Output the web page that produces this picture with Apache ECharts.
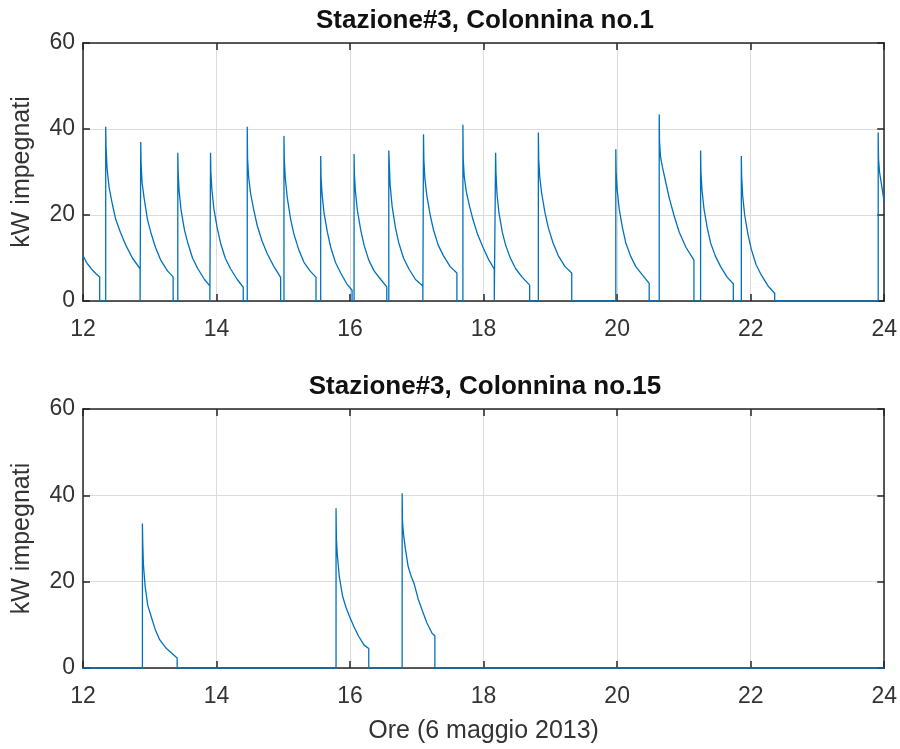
<!DOCTYPE html>
<html>
<head>
<meta charset="utf-8">
<script src="https://cdn.jsdelivr.net/npm/echarts@6/dist/echarts.min.js"></script>
<style>
  html, body { margin: 0; padding: 0; background: #fff; }
  #chart { width: 900px; height: 749px; }
</style>
</head>
<body>
<div id="chart"></div>
<script>
// Hour ticks on the shared time axis and kW ticks on both panels
const xTicks = [12, 14, 16, 18, 20, 22, 24];
const yTicks = [0, 20, 40, 60];

const titles = ['Stazione#3, Colonnina no.1', 'Stazione#3, Colonnina no.15'];
const yName = 'kW impegnati';
const xName = 'Ore (6 maggio 2013)';

// Charging sessions at column no.1: each is a list of [hour, kW] samples,
// first sample is the value at plug-in, last one just before the drop to 0.
const col1Sessions = [
  [[12.00, 10.5], [12.02, 10.0], [12.05, 9.0], [12.09, 8.2], [12.14, 7.2], [12.20, 6.3], [12.25, 5.6]],
  [[12.34, 40.5], [12.345, 36], [12.36, 31], [12.39, 26.5], [12.44, 22.5], [12.49, 19], [12.56, 16], [12.64, 13], [12.74, 10], [12.855, 7.5]],
  [[12.865, 37], [12.87, 32], [12.885, 27.5], [12.915, 24], [12.965, 19], [13.015, 16], [13.085, 12.5], [13.165, 9.5], [13.265, 7], [13.35, 5.6]],
  [[13.42, 34.5], [13.425, 30], [13.44, 25.5], [13.47, 21], [13.52, 16.5], [13.57, 13.5], [13.64, 10], [13.72, 7.5], [13.82, 5], [13.90, 3.5]],
  [[13.91, 34.5], [13.915, 30], [13.93, 26], [13.96, 21.5], [14.01, 17], [14.06, 13.5], [14.13, 10], [14.21, 7.5], [14.31, 5], [14.40, 3.2]],
  [[14.46, 40.5], [14.465, 33], [14.48, 29], [14.51, 25], [14.56, 21], [14.61, 17.5], [14.68, 14], [14.76, 11], [14.86, 8], [14.96, 5.5]],
  [[15.01, 38.4], [15.015, 33], [15.03, 28.5], [15.06, 24], [15.11, 19], [15.16, 15.5], [15.23, 12], [15.31, 9], [15.40, 7], [15.49, 5.5]],
  [[15.56, 33.7], [15.565, 29], [15.58, 25], [15.61, 20.5], [15.66, 16], [15.71, 12.5], [15.78, 9], [15.86, 6.5], [15.95, 4], [16.03, 2.5]],
  [[16.06, 34.2], [16.065, 29.5], [16.08, 25.5], [16.11, 21], [16.16, 16.5], [16.21, 13], [16.28, 9.5], [16.36, 7], [16.46, 5], [16.55, 3.3]],
  [[16.58, 35], [16.585, 33], [16.60, 27], [16.63, 22], [16.68, 17], [16.73, 13.5], [16.80, 10], [16.88, 7.5], [16.98, 5], [17.09, 3.5]],
  [[17.10, 38.8], [17.105, 33], [17.12, 28.5], [17.15, 24.5], [17.20, 20], [17.25, 16.5], [17.32, 13], [17.40, 10.5], [17.50, 8], [17.60, 6.5]],
  [[17.69, 41], [17.695, 33], [17.71, 29], [17.74, 25.5], [17.79, 22], [17.84, 19], [17.91, 15.5], [17.99, 12.5], [18.08, 9.5], [18.16, 7.4]],
  [[18.18, 34.5], [18.185, 30], [18.20, 25], [18.23, 20.5], [18.28, 16], [18.33, 13], [18.40, 10], [18.48, 7.5], [18.58, 5.5], [18.69, 3.7]],
  [[18.82, 39.2], [18.825, 33], [18.84, 29], [18.87, 25], [18.92, 20.5], [18.97, 17], [19.04, 13.5], [19.12, 10.5], [19.22, 8], [19.32, 6.5]],
  [[19.98, 35.3], [19.985, 30], [20.00, 26], [20.03, 21.5], [20.08, 17], [20.13, 13.5], [20.20, 10.5], [20.28, 8], [20.38, 6], [20.48, 4.1]],
  [[20.63, 43.4], [20.635, 37], [20.65, 33.5], [20.68, 31], [20.73, 27.5], [20.78, 24], [20.85, 20], [20.93, 16], [21.03, 12.5], [21.15, 9.5]],
  [[21.25, 35], [21.255, 30], [21.27, 26], [21.30, 21.5], [21.35, 17], [21.40, 13.5], [21.47, 10.5], [21.55, 8], [21.65, 5.5], [21.74, 4]],
  [[21.86, 33.7], [21.865, 29], [21.88, 24.5], [21.91, 20], [21.96, 15.5], [22.01, 12], [22.08, 8.5], [22.16, 6], [22.26, 3.5], [22.36, 1.8]],
  [[23.91, 39.2], [23.915, 33], [23.93, 30], [23.95, 28], [23.97, 26], [24.00, 23]]
];

// Charging sessions at column no.15
const col15Sessions = [
  [[12.89, 33.5], [12.895, 29], [12.905, 24], [12.93, 19], [12.97, 14.5], [13.02, 12], [13.08, 9], [13.15, 6.5], [13.25, 4.5], [13.41, 2.3]],
  [[15.79, 37], [15.795, 30], [15.81, 26], [15.84, 21], [15.89, 16.5], [15.94, 14], [15.99, 12], [16.06, 9.5], [16.13, 7.3], [16.21, 5.3], [16.28, 4.5]],
  [[16.78, 40.5], [16.785, 34], [16.80, 31], [16.83, 27.5], [16.87, 23.5], [16.92, 21], [16.96, 19.5], [17.02, 16], [17.08, 13.4], [17.15, 10.5], [17.23, 8], [17.27, 7.5]]
];

const X_MIN = xTicks[0], X_MAX = xTicks[xTicks.length - 1];

// Join sessions into one trace that sits on 0 kW between charges
function buildTrace(sessions) {
  const out = [];
  sessions.forEach(s => {
    const t0 = s[0][0];
    if (t0 > X_MIN) out.push([t0, 0]);
    s.forEach(p => out.push(p));
    const tEnd = s[s.length - 1][0];
    if (tEnd < X_MAX) out.push([tEnd, 0]);
  });
  if (out.length === 0 || out[0][0] > X_MIN) out.unshift([X_MIN, 0]);
  if (out[out.length - 1][0] < X_MAX) out.push([X_MAX, 0]);
  return out;
}

const FONT = 'Arial, "Liberation Sans", Helvetica, sans-serif';
const BOX = '#262626';
const GRIDLINE = '#dcdcdc';
const LINE = '#0072BD';

const grids = [
  { left: 83, right: 13, top: 43, height: 258 },
  { left: 83, right: 13, top: 409, height: 259 }
];

function xAxisPair(gi, withName) {
  const common = {
    type: 'value', gridIndex: gi, min: X_MIN, max: X_MAX, interval: 2,
    axisLine: { show: true, onZero: false, lineStyle: { color: BOX, width: 1.5 } },
    axisTick: { show: true, inside: true, length: 7, lineStyle: { color: BOX, width: 1.5 } }
  };
  return [
    Object.assign({}, common, {
      position: 'bottom',
      axisLabel: { show: true, margin: 17, color: '#333', fontSize: 23, fontFamily: FONT },
      splitLine: { show: true, lineStyle: { color: GRIDLINE, width: 1 } },
      name: withName ? xName : '',
      nameLocation: 'middle', nameGap: 51,
      nameTextStyle: { color: '#333', fontSize: 25, fontFamily: FONT }
    }),
    Object.assign({}, common, {
      position: 'top',
      axisLabel: { show: false },
      splitLine: { show: false }
    })
  ];
}

function yAxisPair(gi) {
  const common = {
    type: 'value', gridIndex: gi, min: 0, max: 60, interval: 20,
    axisLine: { show: true, onZero: false, lineStyle: { color: BOX, width: 1.5 } },
    axisTick: { show: true, inside: true, length: 7, lineStyle: { color: BOX, width: 1.5 } }
  };
  return [
    Object.assign({}, common, {
      position: 'left',
      axisLabel: { show: true, margin: 8, color: '#333', fontSize: 23, fontFamily: FONT },
      splitLine: { show: true, lineStyle: { color: GRIDLINE, width: 1 } },
      name: yName, nameLocation: 'middle', nameGap: 48, nameRotate: 90,
      nameTextStyle: { color: '#333', fontSize: 25, fontFamily: FONT }
    }),
    Object.assign({}, common, {
      position: 'right',
      axisLabel: { show: false },
      splitLine: { show: false }
    })
  ];
}

const option = {
  animation: false,
  backgroundColor: '#fff',
  title: [
    { text: titles[0], left: 485, top: 8, textAlign: 'center', padding: 0,
      textStyle: { fontSize: 26, fontWeight: 'bold', color: '#111', fontFamily: FONT } },
    { text: titles[1], left: 485, top: 374, textAlign: 'center', padding: 0,
      textStyle: { fontSize: 26, fontWeight: 'bold', color: '#111', fontFamily: FONT } }
  ],
  grid: grids,
  xAxis: [].concat(xAxisPair(0, false), xAxisPair(1, true)),
  yAxis: [].concat(yAxisPair(0), yAxisPair(1)),
  series: [
    { type: 'line', xAxisIndex: 0, yAxisIndex: 0, data: buildTrace(col1Sessions),
      showSymbol: false, symbol: 'none', lineStyle: { color: LINE, width: 1.3 }, z: 3 },
    { type: 'line', xAxisIndex: 2, yAxisIndex: 2, data: buildTrace(col15Sessions),
      showSymbol: false, symbol: 'none', lineStyle: { color: LINE, width: 1.3 }, z: 3 }
  ]
};

const chart = echarts.init(document.getElementById('chart'), null, { renderer: 'canvas' });
chart.setOption(option);
</script>
</body>
</html>
